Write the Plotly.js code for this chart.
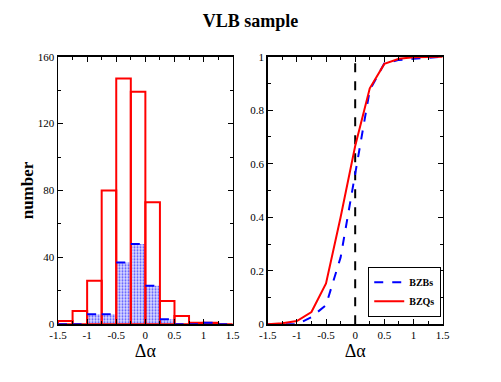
<!DOCTYPE html>
<html>
<head>
<meta charset="utf-8">
<script src="https://cdn.plot.ly/plotly-3.0.1.min.js"></script>
<style>html,body{margin:0;padding:0;background:#fff;}#chart{width:501px;height:382px;}</style>
</head>
<body>
<div id="chart"></div>
<script>
// Histogram bins (centres, width 0.25)
var binCenters = [-1.375, -1.125, -0.875, -0.625, -0.375, -0.125, 0.125, 0.375, 0.625, 0.875, 1.125, 1.375];
var binWidth = 0.25;
var countsBZQs = [2, 8, 26, 80, 147, 139, 73, 14, 5, 1, 1, 0];
var countsBZBs = [0, 0, 6, 6, 37, 48, 23, 3, 0, 0, 1, 0];

// Cumulative distributions
var cdfX = [-1.5, -1.25, -1, -0.75, -0.5, -0.25, 0, 0.25, 0.5, 0.75, 1, 1.25, 1.5];
var cdfBZBs = [0, 0, 0, 0.027, 0.072, 0.25, 0.56, 0.875, 0.975, 0.988, 0.992, 0.995, 1.0];
var cdfBZQs = [0, 0.004, 0.012, 0.046, 0.153, 0.40, 0.666, 0.882, 0.973, 0.992, 0.998, 1.0, 1.0];

// Tick labels
var xTickVals = [-1.5, -1, -0.5, 0, 0.5, 1, 1.5];
var xTickText = ["-1.5", "-1", "-0.5", "0", "0.5", "1", "1.5"];
var y1TickVals = [0, 40, 80, 120, 160];
var y1TickText = ["0", "40", "80", "120", "160"];
var y2TickVals = [0, 0.2, 0.4, 0.6, 0.8, 1];
var y2TickText = ["0", "0.2", "0.4", "0.6", "0.8", "1"];

var serif = "Liberation Serif";

// Dashed tops of the BZBs histogram, built from the bins
var topsX = [], topsY = [];
binCenters.forEach(function (c, i) {
  topsX.push(c - binWidth / 2, c + binWidth / 2, null);
  topsY.push(countsBZBs[i], countsBZBs[i], null);
});

var traces = [
  {
    type: "bar", x: binCenters, y: countsBZBs, width: binWidth,
    xaxis: "x", yaxis: "y", showlegend: false, hoverinfo: "skip",
    marker: {
      color: "rgba(0,0,0,0)",
      line: { width: 0 },
      pattern: { shape: ".", fgcolor: "#5050ff", bgcolor: "#dcdcff", size: 3, solidity: 0.35 }
    }
  },
  {
    type: "bar", x: binCenters, y: countsBZQs, width: binWidth,
    xaxis: "x", yaxis: "y", showlegend: false, hoverinfo: "skip",
    marker: { color: "rgba(0,0,0,0)", line: { color: "#ff0000", width: 2 } }
  },
  {
    type: "scatter", mode: "lines", x: topsX, y: topsY, connectgaps: false,
    xaxis: "x", yaxis: "y", showlegend: false, hoverinfo: "skip",
    line: { color: "#0000ff", width: 2, dash: "dash" }
  },
  {
    type: "scatter", mode: "lines", x: cdfX, y: cdfBZBs, name: "<b>BZBs</b>",
    xaxis: "x2", yaxis: "y2",
    line: { color: "#0000ff", width: 2, dash: "dash" }
  },
  {
    type: "scatter", mode: "lines", x: cdfX, y: cdfBZQs, name: "<b>BZQs</b>",
    xaxis: "x2", yaxis: "y2",
    line: { color: "#ff0000", width: 2 }
  }
];

function xAxis(domain, anchor) {
  return {
    domain: domain, anchor: anchor, range: [-1.5, 1.5],
    tickvals: xTickVals, ticktext: xTickText,
    ticks: "inside", ticklen: 5, tickwidth: 1, tickcolor: "#000",
    minor: { ticks: "inside", dtick: 0.25, tick0: 0, ticklen: 3, tickcolor: "#000" },
    showline: true, linecolor: "#000", linewidth: 1.5, mirror: "ticks",
    showgrid: false, zeroline: false,
    tickfont: { family: serif, size: 11, color: "#000" },
    title: { text: "Δα", font: { family: serif, size: 18, color: "#000" }, standoff: 0 }
  };
}

var layout = {
  width: 501, height: 382,
  margin: { l: 0, r: 0, t: 0, b: 0 },
  paper_bgcolor: "#fff", plot_bgcolor: "#fff",
  barmode: "overlay",
  title: { text: "<b>VLB sample</b>", font: { family: serif, size: 18, color: "#000" }, x: 0.5, xanchor: "center", y: 0.945, yanchor: "middle" },
  xaxis: xAxis([0.1158, 0.4645], "y"),
  xaxis2: xAxis([0.5343, 0.8836], "y2"),
  yaxis: {
    domain: [0.151, 0.8516], anchor: "x", range: [0, 160],
    tickvals: y1TickVals, ticktext: y1TickText,
    ticks: "inside", ticklen: 5, tickcolor: "#000",
    minor: { ticks: "inside", dtick: 20, ticklen: 3, tickcolor: "#000" },
    showline: true, linecolor: "#000", linewidth: 1.5, mirror: "ticks",
    showgrid: false, zeroline: false,
    tickfont: { family: serif, size: 11, color: "#000" },
    title: { text: "<b>number</b>", font: { family: serif, size: 17, color: "#000" }, standoff: 0 }
  },
  yaxis2: {
    domain: [0.151, 0.8516], anchor: "x2", range: [0, 1],
    tickvals: y2TickVals, ticktext: y2TickText,
    ticks: "inside", ticklen: 5, tickcolor: "#000",
    minor: { ticks: "inside", dtick: 0.1, ticklen: 3, tickcolor: "#000" },
    showline: true, linecolor: "#000", linewidth: 1.5, mirror: "ticks",
    showgrid: false, zeroline: false,
    tickfont: { family: serif, size: 11, color: "#000" }
  },
  shapes: [
    { type: "line", xref: "x2", yref: "y2", x0: 0, x1: 0, y0: 0, y1: 1,
      line: { color: "#000", width: 2, dash: "dash" }, layer: "below" }
  ],
  showlegend: true,
  legend: {
    x: 0.735, y: 0.302, xanchor: "left", yanchor: "top",
    bgcolor: "#fff", bordercolor: "#000", borderwidth: 1,
    font: { family: serif, size: 10, color: "#000" },
    tracegroupgap: 0, itemwidth: 30
  }
};

Plotly.newPlot("chart", traces, layout, { displayModeBar: false, staticPlot: true });
</script>
</body>
</html>
